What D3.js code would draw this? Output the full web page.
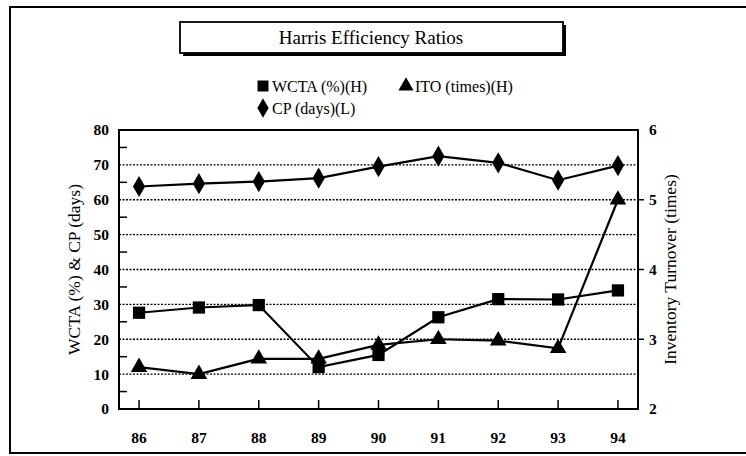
<!DOCTYPE html>
<html>
<head>
<meta charset="utf-8">
<script src="https://cdn.jsdelivr.net/npm/d3@7"></script>
<style>
  body { margin: 0; background: #fff; }
  text { font-family: "Liberation Serif", "Times New Roman", serif; fill: #000; }
</style>
</head>
<body>
<div id="chart"></div>
<script>
// ---- data ----
var years = ["86", "87", "88", "89", "90", "91", "92", "93", "94"];
var wcta = [27.6, 29.1, 29.8, 12, 15.5, 26.3, 31.5, 31.4, 34];      // left axis
var ito = [2.6, 2.5, 2.72, 2.72, 2.92, 3.0, 2.98, 2.87, 5.0];       // right axis
var cp = [63.8, 64.6, 65.2, 66.2, 69.5, 72.5, 70.6, 65.6, 69.8];    // left axis
var leftTicks = [0, 10, 20, 30, 40, 50, 60, 70, 80];
var rightTicks = [2, 3, 4, 5, 6];

var svgWidth = 746, svgHeight = 456;
var margin = { top: 130, right: 108, bottom: 47, left: 119 };
var width = svgWidth - margin.left - margin.right;
var height = svgHeight - margin.top - margin.bottom;

var svg = d3.select("#chart").append("svg").attr("width", svgWidth).attr("height", svgHeight);

// outer frame
svg.append("rect").attr("x", 10).attr("y", 7).attr("width", 750).attr("height", 446)
  .attr("fill", "none").attr("stroke", "#000").attr("stroke-width", 2);

// title box with shadow
svg.append("rect").attr("x", 183).attr("y", 25).attr("width", 383).attr("height", 31).attr("fill", "#000");
svg.append("rect").attr("x", 180).attr("y", 22).attr("width", 383).attr("height", 31)
  .attr("fill", "#fff").attr("stroke", "#000").attr("stroke-width", 1.8);
svg.append("text").attr("x", 371).attr("y", 44).attr("text-anchor", "middle")
  .style("font-size", "19px").text("Harris Efficiency Ratios");

var chartGroup = svg.append("g").attr("transform", `translate(${margin.left}, ${margin.top})`);

var x = d3.scalePoint().domain(years).range([0, width]).padding(0.335);
var yL = d3.scaleLinear().domain([0, 80]).range([height, 0]);
var yR = d3.scaleLinear().domain([2, 6]).range([height, 0]);

// gridlines (dotted)
chartGroup.selectAll("line.grid")
  .data([10, 20, 30, 40, 50, 60, 70])
  .enter().append("line")
  .attr("x1", 0).attr("x2", width)
  .attr("y1", d => yL(d)).attr("y2", d => yL(d))
  .attr("stroke", "#000").attr("stroke-width", 1.3).attr("stroke-dasharray", "2,1.5");

// minor inside ticks on left axis
chartGroup.selectAll("line.minor")
  .data([5, 15, 25, 35, 45, 55, 65, 75])
  .enter().append("line")
  .attr("x1", 0).attr("x2", 8)
  .attr("y1", d => yL(d)).attr("y2", d => yL(d))
  .attr("stroke", "#000").attr("stroke-width", 1.5);

// x inside ticks
chartGroup.selectAll("line.xtick")
  .data(years)
  .enter().append("line")
  .attr("x1", d => x(d)).attr("x2", d => x(d))
  .attr("y1", height).attr("y2", height - 9)
  .attr("stroke", "#000").attr("stroke-width", 1.5);

// right outer ticks
chartGroup.selectAll("line.rtick")
  .data([3, 4, 5])
  .enter().append("line")
  .attr("x1", width).attr("x2", width + 6)
  .attr("y1", d => yR(d)).attr("y2", d => yR(d))
  .attr("stroke", "#000").attr("stroke-width", 1.5);

// plot frame
chartGroup.append("rect").attr("width", width).attr("height", height)
  .attr("fill", "none").attr("stroke", "#000").attr("stroke-width", 2);

// axis labels
chartGroup.selectAll("text.yl")
  .data(leftTicks).enter().append("text")
  .attr("x", -10).attr("y", d => yL(d)).attr("dy", "0.35em")
  .attr("text-anchor", "end").style("font-size", "15.5px").style("font-weight", "bold")
  .text(d => d);

chartGroup.selectAll("text.yr")
  .data(rightTicks).enter().append("text")
  .attr("x", width + 11).attr("y", d => yR(d)).attr("dy", "0.35em")
  .attr("text-anchor", "start").style("font-size", "15.5px").style("font-weight", "bold")
  .text(d => d);

chartGroup.selectAll("text.xl")
  .data(years).enter().append("text")
  .attr("x", d => x(d)).attr("y", height + 34)
  .attr("text-anchor", "middle").style("font-size", "15.5px").style("font-weight", "bold")
  .text(d => d);

// axis titles
svg.append("text").attr("transform", `translate(80, ${margin.top + height / 2}) rotate(-90)`)
  .attr("text-anchor", "middle").style("font-size", "17.5px").text("WCTA (%) & CP (days)");
svg.append("text").attr("transform", `translate(676, ${margin.top + height / 2}) rotate(-90)`)
  .attr("text-anchor", "middle").style("font-size", "17.5px").text("Inventory Turnover (times)");

// series
var series = [
  { values: wcta, scale: yL, shape: d3.symbolSquare, size: 150 },
  { values: ito, scale: yR, shape: d3.symbolTriangle, size: 120 },
  { values: cp, scale: yL, shape: d3.symbolDiamond, size: 130 }
];

series.forEach(s => {
  var line = d3.line().x((d, i) => x(years[i])).y(d => s.scale(d));
  chartGroup.append("path").datum(s.values)
    .attr("d", line).attr("fill", "none").attr("stroke", "#000").attr("stroke-width", 2.2);
  chartGroup.selectAll(null).data(s.values).enter().append("path")
    .attr("d", d3.symbol().type(s.shape).size(s.size))
    .attr("transform", (d, i) => `translate(${x(years[i])}, ${s.scale(d)})`)
    .attr("fill", "#000");
});

// legend
var legendItems = [
  { label: "WCTA (%)(H)", shape: d3.symbolSquare, size: 120, x: 263, y: 86 },
  { label: "ITO (times)(H)", shape: d3.symbolTriangle, size: 100, x: 406, y: 86 },
  { label: "CP (days)(L)", shape: d3.symbolDiamond, size: 110, x: 263, y: 108 }
];
var legend = svg.selectAll("g.legend").data(legendItems).enter().append("g")
  .attr("transform", d => `translate(${d.x}, ${d.y})`);
legend.append("path").attr("d", d => d3.symbol().type(d.shape).size(d.size)()).attr("fill", "#000");
legend.append("text").attr("x", 9).attr("dy", "0.35em").style("font-size", "16px").text(d => d.label);
</script>
</body>
</html>
